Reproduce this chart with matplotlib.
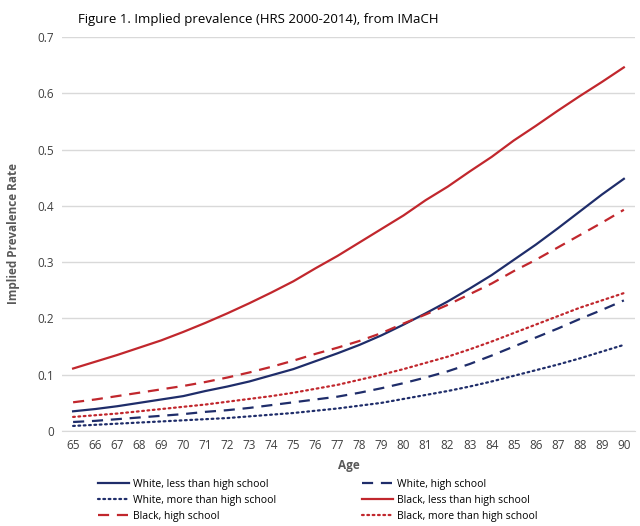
import numpy as np
import matplotlib.pyplot as plt

# implied prevalence by age, race and education
ages = list(range(65, 91))

white_lt_hs = [0.035, 0.039, 0.044, 0.050, 0.056, 0.062, 0.071, 0.079, 0.088, 0.099,
               0.110, 0.124, 0.138, 0.153, 0.170, 0.189, 0.209, 0.230, 0.253, 0.277,
               0.304, 0.331, 0.360, 0.390, 0.420, 0.448]
white_hs = [0.016, 0.018, 0.021, 0.024, 0.027, 0.030, 0.034, 0.037, 0.041, 0.046,
            0.051, 0.056, 0.061, 0.068, 0.076, 0.085, 0.095, 0.106, 0.119, 0.134,
            0.150, 0.166, 0.182, 0.199, 0.215, 0.232]
white_gt_hs = [0.009, 0.011, 0.013, 0.015, 0.017, 0.019, 0.021, 0.023, 0.026, 0.029,
               0.032, 0.036, 0.040, 0.045, 0.050, 0.057, 0.064, 0.071, 0.079, 0.088,
               0.098, 0.108, 0.118, 0.129, 0.141, 0.153]
black_lt_hs = [0.111, 0.123, 0.135, 0.148, 0.161, 0.176, 0.192, 0.209, 0.227, 0.246,
               0.266, 0.289, 0.311, 0.335, 0.359, 0.383, 0.410, 0.434, 0.461, 0.487,
               0.516, 0.542, 0.569, 0.595, 0.620, 0.646]
black_hs = [0.051, 0.056, 0.062, 0.068, 0.074, 0.080, 0.087, 0.095, 0.104, 0.114,
            0.125, 0.137, 0.148, 0.160, 0.174, 0.191, 0.207, 0.224, 0.243, 0.262,
            0.284, 0.304, 0.326, 0.348, 0.370, 0.393]
black_gt_hs = [0.025, 0.028, 0.031, 0.035, 0.039, 0.043, 0.047, 0.052, 0.057, 0.062,
               0.068, 0.075, 0.082, 0.091, 0.100, 0.110, 0.121, 0.132, 0.145, 0.159,
               0.174, 0.189, 0.204, 0.219, 0.232, 0.245]

navy = '#1f2d6a'
red = '#c1272d'
grey_txt = '#595959'

plt.rcParams['font.family'] = ['Open Sans', 'DejaVu Sans']

fig = plt.figure(figsize=(6.4, 5.26), dpi=100)
ax = fig.add_axes([0.097, 0.1806, 0.895, 0.7491])

lw = 1.6
dash = (5, 3.5)
dot = (0.8, 1.6)
lines = []
lines += ax.plot(ages, white_lt_hs, color=navy, lw=lw, label='White, less than high school')
lines += ax.plot(ages, white_hs, color=navy, lw=lw, dashes=dash, label='White, high school')
lines += ax.plot(ages, white_gt_hs, color=navy, lw=lw, dashes=dot,
                 dash_capstyle='round', label='White, more than high school')
lines += ax.plot(ages, black_lt_hs, color=red, lw=lw, label='Black, less than high school')
lines += ax.plot(ages, black_hs, color=red, lw=lw, dashes=dash, label='Black, high school')
lines += ax.plot(ages, black_gt_hs, color=red, lw=lw, dashes=dot,
                 dash_capstyle='round', label='Black, more than high school')

ax.set_xlim(64.5, 90.5)
ax.set_ylim(0, 0.7)
ax.set_xticks(ages)
ax.set_yticks(np.arange(0, 0.71, 0.1))
ax.set_yticklabels(['0', '0.1', '0.2', '0.3', '0.4', '0.5', '0.6', '0.7'])
ax.tick_params(length=0, labelsize=8.5, colors='#404040', pad=6)
ax.grid(axis='y', color='#d9d9d9', lw=1)
ax.set_axisbelow(True)
for s in ['top', 'right', 'left']:
    ax.spines[s].set_visible(False)
ax.spines['bottom'].set_color('#d9d9d9')

ax.set_ylabel('Implied Prevalence Rate', fontsize=8.5, fontweight='bold', color=grey_txt, labelpad=12)
ax.set_xlabel('Age', fontsize=8.5, fontweight='bold', color=grey_txt, labelpad=5)

fig.text(0.122, 0.962, 'Figure 1. Implied prevalence (HRS 2000-2014), from IMaCH',
         fontsize=9.5, color='black', va='center')

# legend reads across rows, matplotlib fills by column
order = [0, 2, 4, 1, 3, 5]
ax.legend([lines[i] for i in order], [lines[i].get_label() for i in order],
          loc='upper left', bbox_to_anchor=(0.055, -0.11), ncol=2, frameon=False,
          fontsize=7.5, handlelength=3, columnspacing=8.2, labelspacing=0.5,
          handletextpad=0.4, borderaxespad=0)

fig.savefig('out.png', dpi=100)
